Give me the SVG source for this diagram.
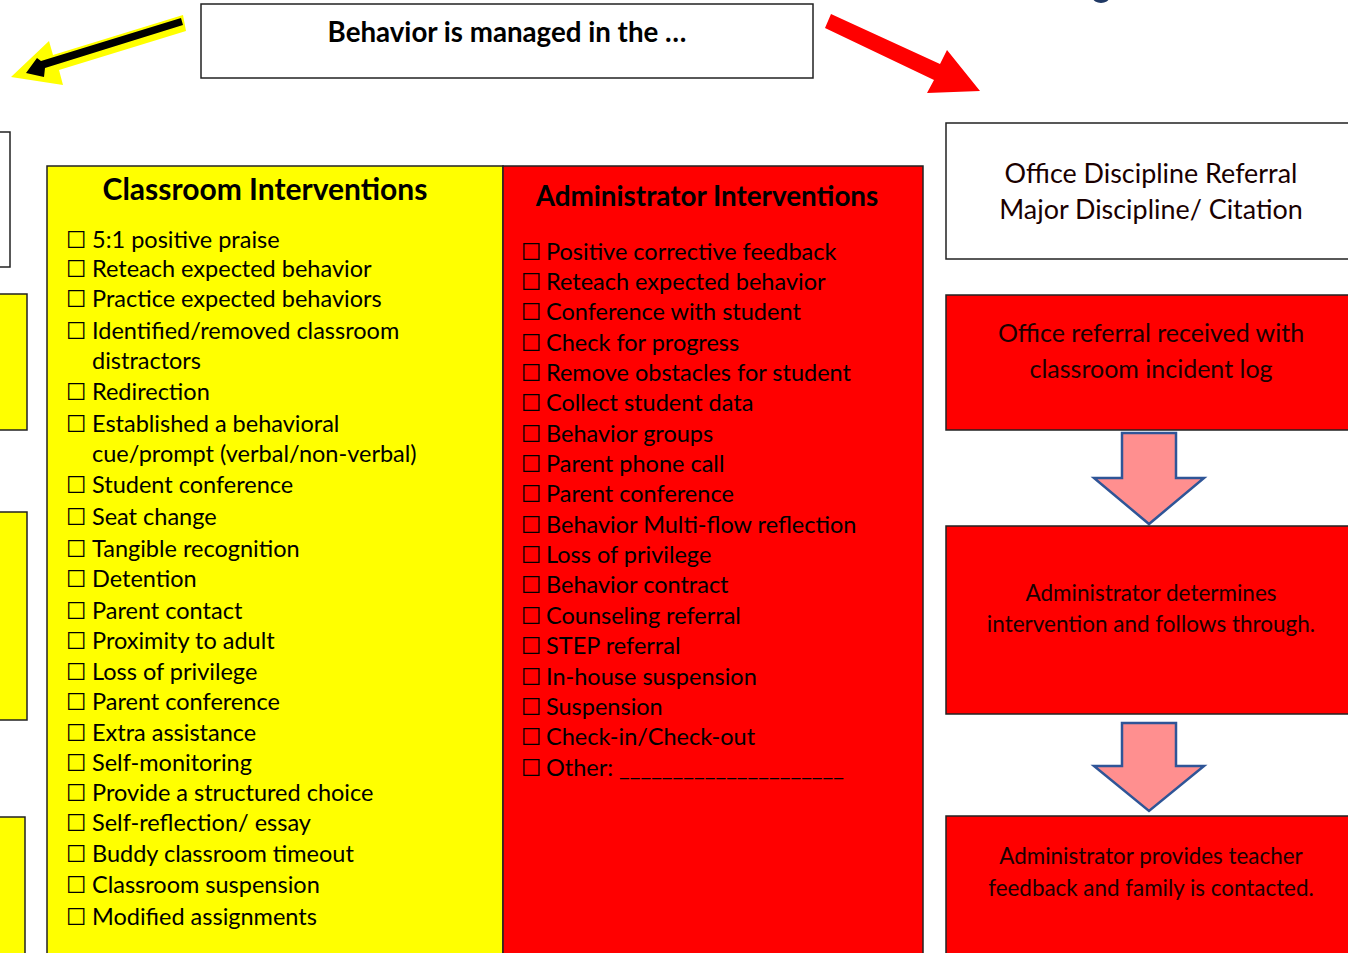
<svg xmlns="http://www.w3.org/2000/svg" width="1348" height="953" viewBox="0 0 1348 953">
<style>
  .box { stroke: #222; stroke-width: 1.5; }
  .yel { fill: #FFFF00; }
  .red { fill: #FF0000; }
  .wht { fill: #FFFFFF; }
  .t { font-family: Lato, "Open Sans", sans-serif; font-size: 23.5px; fill: #000; }
  .h { font-family: Lato, "Open Sans", sans-serif; font-weight: bold; fill: #000; }
  .cb { font-family: "DejaVu Sans", sans-serif; font-size: 23px; }
  .rt { font-family: Lato, "Open Sans", sans-serif; fill: #1a0000; text-anchor: middle; }
  .down { fill: #FF8F8F; stroke: #2F5597; stroke-width: 2.5; }
</style>
<rect width="1348" height="953" fill="#FFFFFF"/>

<g id="connectors">
  <polygon points="183,15 186,31 59,70 63,85 11,77 49,41 53,55" fill="#FFFF00"/>
  <polygon points="181,18 183,25 45,68 44,77 26,73 37,58 41,61" fill="#000000"/>
  <polygon points="831,14 940,64 947,50 980,91 927,93 934,80 825,28" fill="#FF0000"/>
  <polygon class="down" points="1122,433 1176,433 1176,478 1204,478 1149,524 1094,478 1122,478"/>
  <polygon class="down" points="1122,723 1176,723 1176,766 1204,766 1149,811 1094,766 1122,766"/>
</g>

<ellipse cx="1101" cy="-2" rx="8" ry="5" fill="#1F3864"/>

<g id="title">
  <rect x="201" y="4" width="612" height="74" class="box wht"/>
  <text x="507" y="42" class="h" font-size="27.7" text-anchor="middle">Behavior is managed in the …</text>
</g>

<g id="left-edge-boxes">
  <rect x="-10" y="132" width="20" height="135" class="box wht"/>
  <rect x="-10" y="294" width="37" height="136" class="box yel"/>
  <rect x="-10" y="512" width="37" height="208" class="box yel"/>
  <rect x="-10" y="817" width="35" height="150" class="box yel"/>
</g>

<g id="classroom">
  <rect x="47" y="166" width="456" height="800" class="box yel"/>
  <text x="265" y="200" class="h" font-size="30" text-anchor="middle">Classroom Interventions</text>
  <g class="t">
    <text y="248"><tspan x="66" class="cb">☐</tspan><tspan x="92">5:1 positive praise</tspan></text>
    <text y="277"><tspan x="66" class="cb">☐</tspan><tspan x="92">Reteach expected behavior</tspan></text>
    <text y="307"><tspan x="66" class="cb">☐</tspan><tspan x="92">Practice expected behaviors</tspan></text>
    <text y="339"><tspan x="66" class="cb">☐</tspan><tspan x="92">Identified/removed classroom</tspan></text>
    <text y="369"><tspan x="92">distractors</tspan></text>
    <text y="400"><tspan x="66" class="cb">☐</tspan><tspan x="92">Redirection</tspan></text>
    <text y="432"><tspan x="66" class="cb">☐</tspan><tspan x="92">Established a behavioral</tspan></text>
    <text y="462"><tspan x="92">cue/prompt (verbal/non-verbal)</tspan></text>
    <text y="493"><tspan x="66" class="cb">☐</tspan><tspan x="92">Student conference</tspan></text>
    <text y="525"><tspan x="66" class="cb">☐</tspan><tspan x="92">Seat change</tspan></text>
    <text y="557"><tspan x="66" class="cb">☐</tspan><tspan x="92">Tangible recognition</tspan></text>
    <text y="587"><tspan x="66" class="cb">☐</tspan><tspan x="92">Detention</tspan></text>
    <text y="619"><tspan x="66" class="cb">☐</tspan><tspan x="92">Parent contact</tspan></text>
    <text y="649"><tspan x="66" class="cb">☐</tspan><tspan x="92">Proximity to adult</tspan></text>
    <text y="680"><tspan x="66" class="cb">☐</tspan><tspan x="92">Loss of privilege</tspan></text>
    <text y="710"><tspan x="66" class="cb">☐</tspan><tspan x="92">Parent conference</tspan></text>
    <text y="741"><tspan x="66" class="cb">☐</tspan><tspan x="92">Extra assistance</tspan></text>
    <text y="771"><tspan x="66" class="cb">☐</tspan><tspan x="92">Self-monitoring</tspan></text>
    <text y="801"><tspan x="66" class="cb">☐</tspan><tspan x="92">Provide a structured choice</tspan></text>
    <text y="831"><tspan x="66" class="cb">☐</tspan><tspan x="92">Self-reflection/ essay</tspan></text>
    <text y="862"><tspan x="66" class="cb">☐</tspan><tspan x="92">Buddy classroom timeout</tspan></text>
    <text y="893"><tspan x="66" class="cb">☐</tspan><tspan x="92">Classroom suspension</tspan></text>
    <text y="925"><tspan x="66" class="cb">☐</tspan><tspan x="92">Modified assignments</tspan></text>
  </g>
</g>

<g id="administrator">
  <rect x="503" y="166" width="420" height="800" class="box red"/>
  <text x="707" y="206" class="h" font-size="27.8" text-anchor="middle">Administrator Interventions</text>
  <g class="t">
    <text y="260"><tspan x="521" class="cb">☐</tspan><tspan x="546">Positive corrective feedback</tspan></text>
    <text y="290"><tspan x="521" class="cb">☐</tspan><tspan x="546">Reteach expected behavior</tspan></text>
    <text y="320"><tspan x="521" class="cb">☐</tspan><tspan x="546">Conference with student</tspan></text>
    <text y="351"><tspan x="521" class="cb">☐</tspan><tspan x="546">Check for progress</tspan></text>
    <text y="381"><tspan x="521" class="cb">☐</tspan><tspan x="546">Remove obstacles for student</tspan></text>
    <text y="411"><tspan x="521" class="cb">☐</tspan><tspan x="546">Collect student data</tspan></text>
    <text y="442"><tspan x="521" class="cb">☐</tspan><tspan x="546">Behavior groups</tspan></text>
    <text y="472"><tspan x="521" class="cb">☐</tspan><tspan x="546">Parent phone call</tspan></text>
    <text y="502"><tspan x="521" class="cb">☐</tspan><tspan x="546">Parent conference</tspan></text>
    <text y="533"><tspan x="521" class="cb">☐</tspan><tspan x="546">Behavior Multi-flow reflection</tspan></text>
    <text y="563"><tspan x="521" class="cb">☐</tspan><tspan x="546">Loss of privilege</tspan></text>
    <text y="593"><tspan x="521" class="cb">☐</tspan><tspan x="546">Behavior contract</tspan></text>
    <text y="624"><tspan x="521" class="cb">☐</tspan><tspan x="546">Counseling referral</tspan></text>
    <text y="654"><tspan x="521" class="cb">☐</tspan><tspan x="546">STEP referral</tspan></text>
    <text y="685"><tspan x="521" class="cb">☐</tspan><tspan x="546">In-house suspension</tspan></text>
    <text y="715"><tspan x="521" class="cb">☐</tspan><tspan x="546">Suspension</tspan></text>
    <text y="745"><tspan x="521" class="cb">☐</tspan><tspan x="546">Check-in/Check-out</tspan></text>
    <text y="776"><tspan x="521" class="cb">☐</tspan><tspan x="546">Other: </tspan><tspan x="619" textLength="225" lengthAdjust="spacingAndGlyphs">_____________________</tspan></text>
  </g>
</g>

<g id="office-referral">
  <rect x="946" y="123" width="420" height="136" class="box wht"/>
  <text x="1151" y="183" class="rt" font-size="26.9">Office Discipline Referral</text>
  <text x="1151" y="219" class="rt" font-size="26.9">Major Discipline/ Citation</text>
</g>

<g id="step1">
  <rect x="946" y="295" width="420" height="135" class="box red"/>
  <text x="1151" y="342" class="rt" font-size="25">Office referral received with</text>
  <text x="1151" y="378" class="rt" font-size="25">classroom incident log</text>
</g>

<g id="step2">
  <rect x="946" y="526" width="420" height="188" class="box red"/>
  <text x="1151" y="601" class="rt" font-size="22.5">Administrator determines</text>
  <text x="1151" y="632" class="rt" font-size="22.5">intervention and follows through.</text>
</g>

<g id="step3">
  <rect x="946" y="816" width="420" height="150" class="box red"/>
  <text x="1151" y="864" class="rt" font-size="22.4">Administrator provides teacher</text>
  <text x="1151" y="896" class="rt" font-size="22.4">feedback and family is contacted.</text>
</g>
</svg>
